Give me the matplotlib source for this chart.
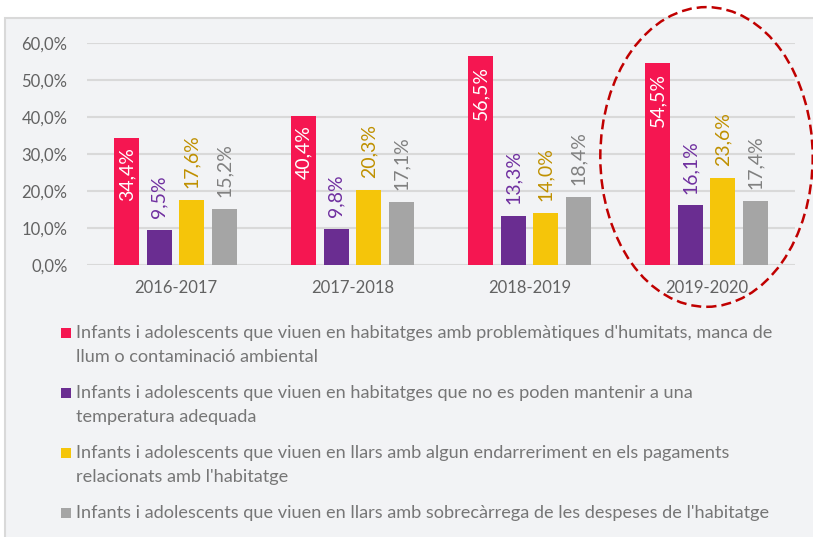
import matplotlib
matplotlib.use("Agg")
import matplotlib.pyplot as plt
from matplotlib.patches import Rectangle, Ellipse
import numpy as np

plt.rcParams["font.family"] = ["Lato", "DejaVu Sans"]

periods = ["2016-2017", "2017-2018", "2018-2019", "2019-2020"]
humitat = [34.4, 40.4, 56.5, 54.5]
temperatura = [9.5, 9.8, 13.3, 16.1]
endarreriment = [17.6, 20.3, 14.0, 23.6]
sobrecarrega = [15.2, 17.1, 18.4, 17.4]

labels = [
    "Infants i adolescents que viuen en habitatges amb problemàtiques d'humitats, manca de\nllum o contaminació ambiental",
    "Infants i adolescents que viuen en habitatges que no es poden mantenir a una\ntemperatura adequada",
    "Infants i adolescents que viuen en llars amb algun endarreriment en els pagaments\nrelacionats amb l'habitatge",
    "Infants i adolescents que viuen en llars amb sobrecàrrega de les despeses de l'habitatge",
]
yticks = [0, 10, 20, 30, 40, 50, 60]

series = [humitat, temperatura, endarreriment, sobrecarrega]
colors = ["#f51651", "#6a2d91", "#f5c50a", "#a5a5a5"]
label_colors = ["white", "#7030a0", "#bf9000", "#808080"]

W, H = 813, 537
fig = plt.figure(figsize=(W / 100, H / 100), dpi=100)
fig.patch.set_facecolor("white")

# gray panel behind everything
fig.patches.append(Rectangle((5 / W, -0.05), 1.1, 1 - 18 / H + 0.05,
                             transform=fig.transFigure, facecolor="#f2f3f5",
                             edgecolor="#d9d9d9", lw=1.5, zorder=-1))

ax = fig.add_axes([87 / W, 1 - 265 / H, 708 / W, 222 / H])
ax.set_facecolor("none")

x = np.arange(len(periods))
step = 0.183
width = 0.141
for i, (vals, c, lc) in enumerate(zip(series, colors, label_colors)):
    pos = x + (i - 1.5) * step
    ax.bar(pos, vals, width, color=c, zorder=3)
    for px, v in zip(pos, vals):
        txt = f"{v:.1f}%".replace(".", ",")
        if i == 0:
            ax.annotate(txt, (px, v), xytext=(0, -7), textcoords="offset points",
                        rotation=90, ha="center", va="top", color=lc, fontsize=14)
        else:
            ax.annotate(txt, (px, v), xytext=(0, 8.5), textcoords="offset points",
                        rotation=90, ha="center", va="bottom", color=lc, fontsize=14)

ax.set_xlim(-0.5, 3.5)
ax.set_ylim(0, 60)
ax.set_yticks(yticks)
ax.set_yticklabels([f"{t},0%" for t in yticks])
ax.set_xticks(x)
ax.set_xticklabels(periods)
ax.tick_params(axis="y", length=0, pad=14, labelsize=12, labelcolor="#626262")
ax.tick_params(axis="x", length=0, pad=11, labelsize=12, labelcolor="#626262")
ax.grid(axis="y", color="#d9d9d9", lw=1.5, zorder=0)
for s in ax.spines.values():
    s.set_visible(False)

# highlight of the last period
ax.add_patch(Ellipse((3.0, 29.2), 1.2, 81, fill=False, edgecolor="#c00000",
                     lw=1.8, linestyle=(0, (4, 2)), clip_on=False, zorder=5))

# legend drawn by hand
y0 = 333
for i, (lab, c) in enumerate(zip(labels, colors)):
    yc = y0 + i * 60
    fig.patches.append(Rectangle((61 / W, 1 - (yc + 5) / H), 10 / W, 10 / H,
                                 transform=fig.transFigure, facecolor=c,
                                 edgecolor="none", zorder=2))
    for j, line in enumerate(lab.split("\n")):
        fig.text(76 / W, 1 - (yc + j * 24) / H, line, ha="left", va="center",
                 fontsize=13.1, color="#767676")

fig.savefig("out.png", dpi=100)
